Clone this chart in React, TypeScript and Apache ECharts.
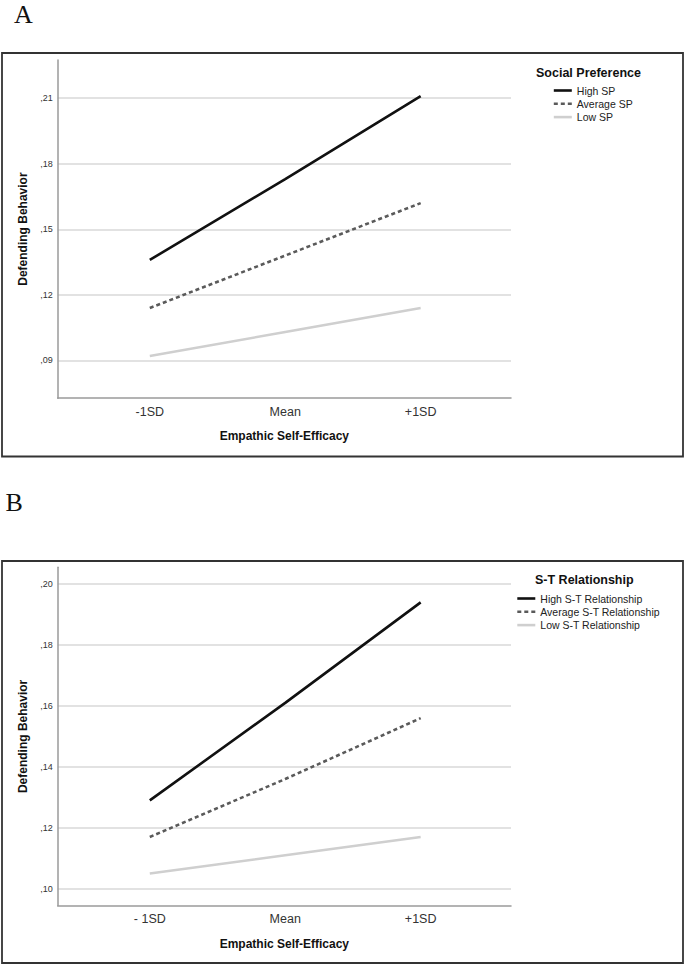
import React, { useEffect, useRef } from "react";
import * as echarts from "echarts";

// ---- data ----
const xPositions = [-1, 0, 1];
const xLabelsA = ["-1SD", "Mean", "+1SD"];
const xLabelsB = ["- 1SD", "Mean", "+1SD"];

const seriesNamesA = ["High SP", "Average SP", "Low SP"];
const highSP = [0.136, 0.173, 0.211];
const averageSP = [0.114, 0.138, 0.162];
const lowSP = [0.092, 0.103, 0.114];

const seriesNamesB = ["High S-T Relationship", "Average S-T Relationship", "Low S-T Relationship"];
const highST = [0.129, 0.161, 0.194];
const averageST = [0.117, 0.136, 0.156];
const lowST = [0.105, 0.111, 0.117];

const yTicksA = [0.09, 0.12, 0.15, 0.18, 0.21];
const yTicksB = [0.1, 0.12, 0.14, 0.16, 0.18, 0.2];

const yRangeA = [0.0727, 0.2275];
const yRangeB = [0.0945, 0.2055];
const xRange = [-1.68, 1.667];

const panelLetters = ["A", "B"];
const legendTitles = ["Social Preference", "S-T Relationship"];
const xTitle = "Empathic Self-Efficacy";
const yTitle = "Defending Behavior";

const FONT = "'Liberation Sans', Arial, sans-serif";

const fmtY = (v: number) => "," + v.toFixed(2).split(".")[1];

const lineStyles = [
  { color: "#111111", width: 2.6, type: "solid" as const },
  { color: "#5a5a5a", width: 2.6, type: [4, 3] as any },
  { color: "#cfcfcf", width: 2.4, type: "solid" as const },
];

function toPoints(vals: number[]) {
  return vals.map((v, i) => [xPositions[i], v]);
}

export default function App() {
  const ref = useRef<HTMLDivElement>(null);
  useEffect(() => {
    document.body.style.margin = "0";
    if (!ref.current) return;
    const chart = echarts.init(ref.current, undefined, { renderer: "svg" });

    const gridTops = [60, 567.3];
    const gridHeight = 338.2;

    const makeX = (idx: number, labels: string[]) => ({
      type: "value" as const,
      gridIndex: idx,
      min: xRange[0],
      max: xRange[1],
      splitLine: { show: false },
      axisTick: { show: false },
      axisLine: { show: true, onZero: false, lineStyle: { color: "#9a9a9a", width: 1.5 } },
      axisLabel: {
        customValues: xPositions,
        formatter: (v: number) => labels[xPositions.indexOf(Math.round(v))] ?? "",
        color: "#333",
        fontFamily: FONT,
        fontSize: 12.5,
        margin: 7,
      },
      name: xTitle,
      nameLocation: "middle" as const,
      nameGap: 32,
      nameTextStyle: { fontFamily: FONT, fontSize: 12, fontWeight: "bold" as const, color: "#111" },
    });

    const makeY = (idx: number, range: number[], ticks: number[]) => ({
      type: "value" as const,
      gridIndex: idx,
      min: range[0],
      max: range[1],
      axisLine: { show: true, onZero: false, lineStyle: { color: "#9a9a9a", width: 1.5 } },
      axisTick: { show: false, customValues: ticks },
      splitLine: { show: true, lineStyle: { color: "#d9d9d9", width: 1.5 } },
      axisLabel: {
        customValues: ticks,
        formatter: fmtY,
        color: "#333",
        fontFamily: FONT,
        fontSize: 9,
        margin: 5,
      },
      name: yTitle,
      nameLocation: "middle" as const,
      nameGap: 27,
      nameRotate: 90,
      nameTextStyle: { fontFamily: FONT, fontSize: 12, fontWeight: "bold" as const, color: "#111" },
    });

    const mkSeries = (names: string[], data: number[][], idx: number) =>
      names.map((n, i) => ({
        type: "line" as const,
        name: n,
        xAxisIndex: idx,
        yAxisIndex: idx,
        data: toPoints(data[i]),
        symbol: "none",
        showSymbol: false,
        lineStyle: lineStyles[i],
        itemStyle: { color: lineStyles[i].color },
        z: 10 - i,
      }));

    const legendCommon = {
      orient: "vertical" as const,
      itemWidth: 18,
      itemHeight: 8,
      itemGap: 1.3,
      padding: 0,
      lineStyle: { width: 2.6 },
      itemStyle: { opacity: 0 },
      textStyle: { fontFamily: FONT, fontSize: 10.5, color: "#222", lineHeight: 12 },
      selectedMode: false,
    };

    chart.setOption({
      animation: false,
      backgroundColor: "#ffffff",
      grid: gridTops.map((t) => ({ left: 57.7, right: 174, top: t, height: gridHeight, containLabel: false })),
      xAxis: [makeX(0, xLabelsA), makeX(1, xLabelsB)],
      yAxis: [makeY(0, yRangeA, yTicksA), makeY(1, yRangeB, yTicksB)],
      legend: [
        { ...legendCommon, data: seriesNamesA, left: 552.5, top: 84.5 },
        { ...legendCommon, data: seriesNamesB, left: 516, top: 592.5 },
      ],
      series: [
        ...mkSeries(seriesNamesA, [highSP, averageSP, lowSP], 0),
        ...mkSeries(seriesNamesB, [highST, averageST, lowST], 1),
      ],
      graphic: [
        { type: "rect", shape: { x: 2, y: 53, width: 681, height: 403.5 }, style: { fill: "none", stroke: "#333", lineWidth: 1.8 }, z: 1 },
        { type: "rect", shape: { x: 2, y: 561, width: 681, height: 402 }, style: { fill: "none", stroke: "#333", lineWidth: 1.8 }, z: 1 },
        { type: "text", x: 14, y: 14, style: { text: panelLetters[0], font: "26px 'Liberation Serif', 'Times New Roman', serif", fill: "#111", verticalAlign: "middle", align: "left" } },
        { type: "text", x: 5.5, y: 502, style: { text: panelLetters[1], font: "26px 'Liberation Serif', 'Times New Roman', serif", fill: "#111", verticalAlign: "middle", align: "left" } },
        { type: "text", x: 536, y: 72.5, style: { text: legendTitles[0], font: `bold 12.5px ${FONT}`, fill: "#111", verticalAlign: "middle", align: "left" } },
        { type: "text", x: 535, y: 579.5, style: { text: legendTitles[1], font: `bold 12.5px ${FONT}`, fill: "#111", verticalAlign: "middle", align: "left" } },
      ],
    });
    return () => chart.dispose();
  }, []);
  return <div ref={ref} style={{ width: 685, height: 965 }} />;
}
